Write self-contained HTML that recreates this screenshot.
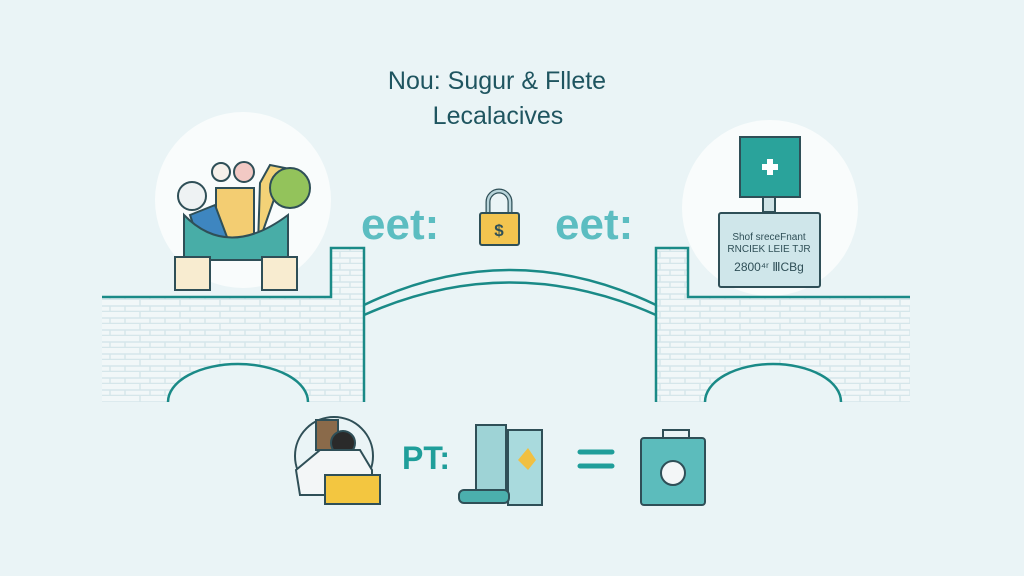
<!DOCTYPE html>
<html><head><meta charset="utf-8"><style>
html,body{margin:0;padding:0;width:1024px;height:576px;overflow:hidden;background:#eaf4f6}
svg{display:block}
text{font-family:"Liberation Sans",sans-serif}
</style></head><body>
<svg width="1024" height="576" viewBox="0 0 1024 576" xmlns="http://www.w3.org/2000/svg">
<defs>
<pattern id="brick" width="40" height="12" patternUnits="userSpaceOnUse">
<rect width="40" height="12" fill="#f1f7f8"/>
<path d="M0 11.5H40M20 0V6M0 6H40M5 6V12M30 6V12" stroke="#d5e6ea" stroke-width="1.4"/>
</pattern>
</defs>
<rect width="1024" height="576" fill="#eaf4f6"/>
<circle cx="243" cy="200" r="88" fill="#f9fcfc"/>
<circle cx="770" cy="208" r="88" fill="#f9fcfc"/>
<path d="M102 297H331V248H364V402H102Z" fill="url(#brick)"/>
<path d="M910 297H688V248H656V402H910Z" fill="url(#brick)"/>
<path d="M168 402A70 38 0 0 1 308 402Z" fill="#eaf4f6"/>
<path d="M705 402A68 38 0 0 1 841 402Z" fill="#eaf4f6"/>
<g fill="none" stroke="#1a8a87" stroke-width="2.5">
<path d="M102 297H331V248H364V402"/>
<path d="M910 297H688V248H656V402"/>
<path d="M168 402A70 38 0 0 1 308 402"/>
<path d="M705 402A68 38 0 0 1 841 402"/>
<path d="M364 305Q510 235 656 305"/>
<path d="M364 315Q510 250 656 315"/>
</g>
<text x="497" y="89" font-size="25" fill="#1f5560" text-anchor="middle">Nou: Sugur &amp; Fllete</text>
<text x="498" y="124" font-size="25" fill="#1f5560" text-anchor="middle">Lecalacives</text>
<text x="361" y="239" font-size="44" font-weight="bold" fill="#5cbdc1">eet:</text>
<text x="555" y="239" font-size="44" font-weight="bold" fill="#5cbdc1">eet:</text>
<path d="M488 213V202a11 11 0 0 1 22 0V213" fill="none" stroke="#2f4f57" stroke-width="5"/>
<path d="M488 213V202a11 11 0 0 1 22 0V213" fill="none" stroke="#b8d4da" stroke-width="2.5"/>
<rect x="480" y="213" width="39" height="32" rx="2" fill="#f3c44f" stroke="#2f4f57" stroke-width="2"/>
<text x="499" y="236" font-size="17" font-weight="bold" fill="#2f4f57" text-anchor="middle">$</text>
<g stroke="#2f4f57" stroke-width="2">
<circle cx="192" cy="196" r="14" fill="#eef2f3"/>
<circle cx="221" cy="172" r="9" fill="#f6f0ea"/>
<circle cx="244" cy="172" r="10" fill="#f2c9c4"/>
<path d="M260 183L270 165L285 168L258 245Z" fill="#f3d277"/>
<rect x="216" y="188" width="38" height="57" fill="#f3cd72"/>
<path d="M190 215L215 205L230 245H200Z" fill="#3e86c0"/>
<circle cx="290" cy="188" r="20" fill="#93c35b"/>
<path d="M184 215Q228 260 288 215V260H184Z" fill="#48ada7"/>
<rect x="175" y="257" width="35" height="33" fill="#f8ecd0"/>
<rect x="262" y="257" width="35" height="33" fill="#f8ecd0"/>
</g>
<g stroke="#2f4f57" stroke-width="2">
<rect x="740" y="137" width="60" height="60" fill="#2aa39b"/>
<rect x="763" y="197" width="12" height="15" fill="#cfe3e6"/>
<rect x="719" y="213" width="101" height="74" rx="2" fill="#cfe6ea"/>
</g>
<path d="M762 167H778M770 159V175" stroke="#fff" stroke-width="6"/>
<text x="769" y="240" font-size="10" fill="#2f4f57" text-anchor="middle">Shof sreceFnant</text>
<text x="769" y="252" font-size="10" fill="#2f4f57" text-anchor="middle">RNCIEK LEIE TJR</text>
<text x="769" y="271" font-size="12" fill="#2f4f57" text-anchor="middle">2800⁴ʳ ⅢCBɡ</text>
<g stroke="#2f4f57" stroke-width="2">
<circle cx="334" cy="456" r="39" fill="#eaf4f6"/>
<rect x="316" y="420" width="22" height="30" fill="#8a6a4a"/>
<circle cx="343" cy="443" r="12" fill="#2a2a2a"/>
<path d="M296 470L320 450H360L372 470V495H300Z" fill="#f3f6f7"/>
<rect x="325" y="475" width="55" height="29" fill="#f3c640"/>
<rect x="476" y="425" width="30" height="75" fill="#9ed3d6"/>
<rect x="508" y="430" width="34" height="75" fill="#a9dadd"/>
<rect x="459" y="490" width="50" height="13" rx="5" fill="#4bafad"/>
<path d="M663 445V430h26V445" fill="none"/>
<rect x="641" y="438" width="64" height="67" rx="3" fill="#5cbcbc"/>
<circle cx="673" cy="473" r="12" fill="#f3f6f7"/>
</g>
<path d="M518 460L528 448L536 460L528 470Z" fill="#f1c041"/>
<text x="402" y="469" font-size="32" font-weight="bold" fill="#1f9e9a">PT:</text>
<path d="M580 452H612M580 466H612" stroke="#1f9e9a" stroke-width="5" stroke-linecap="round"/>
</svg>
</body></html>
